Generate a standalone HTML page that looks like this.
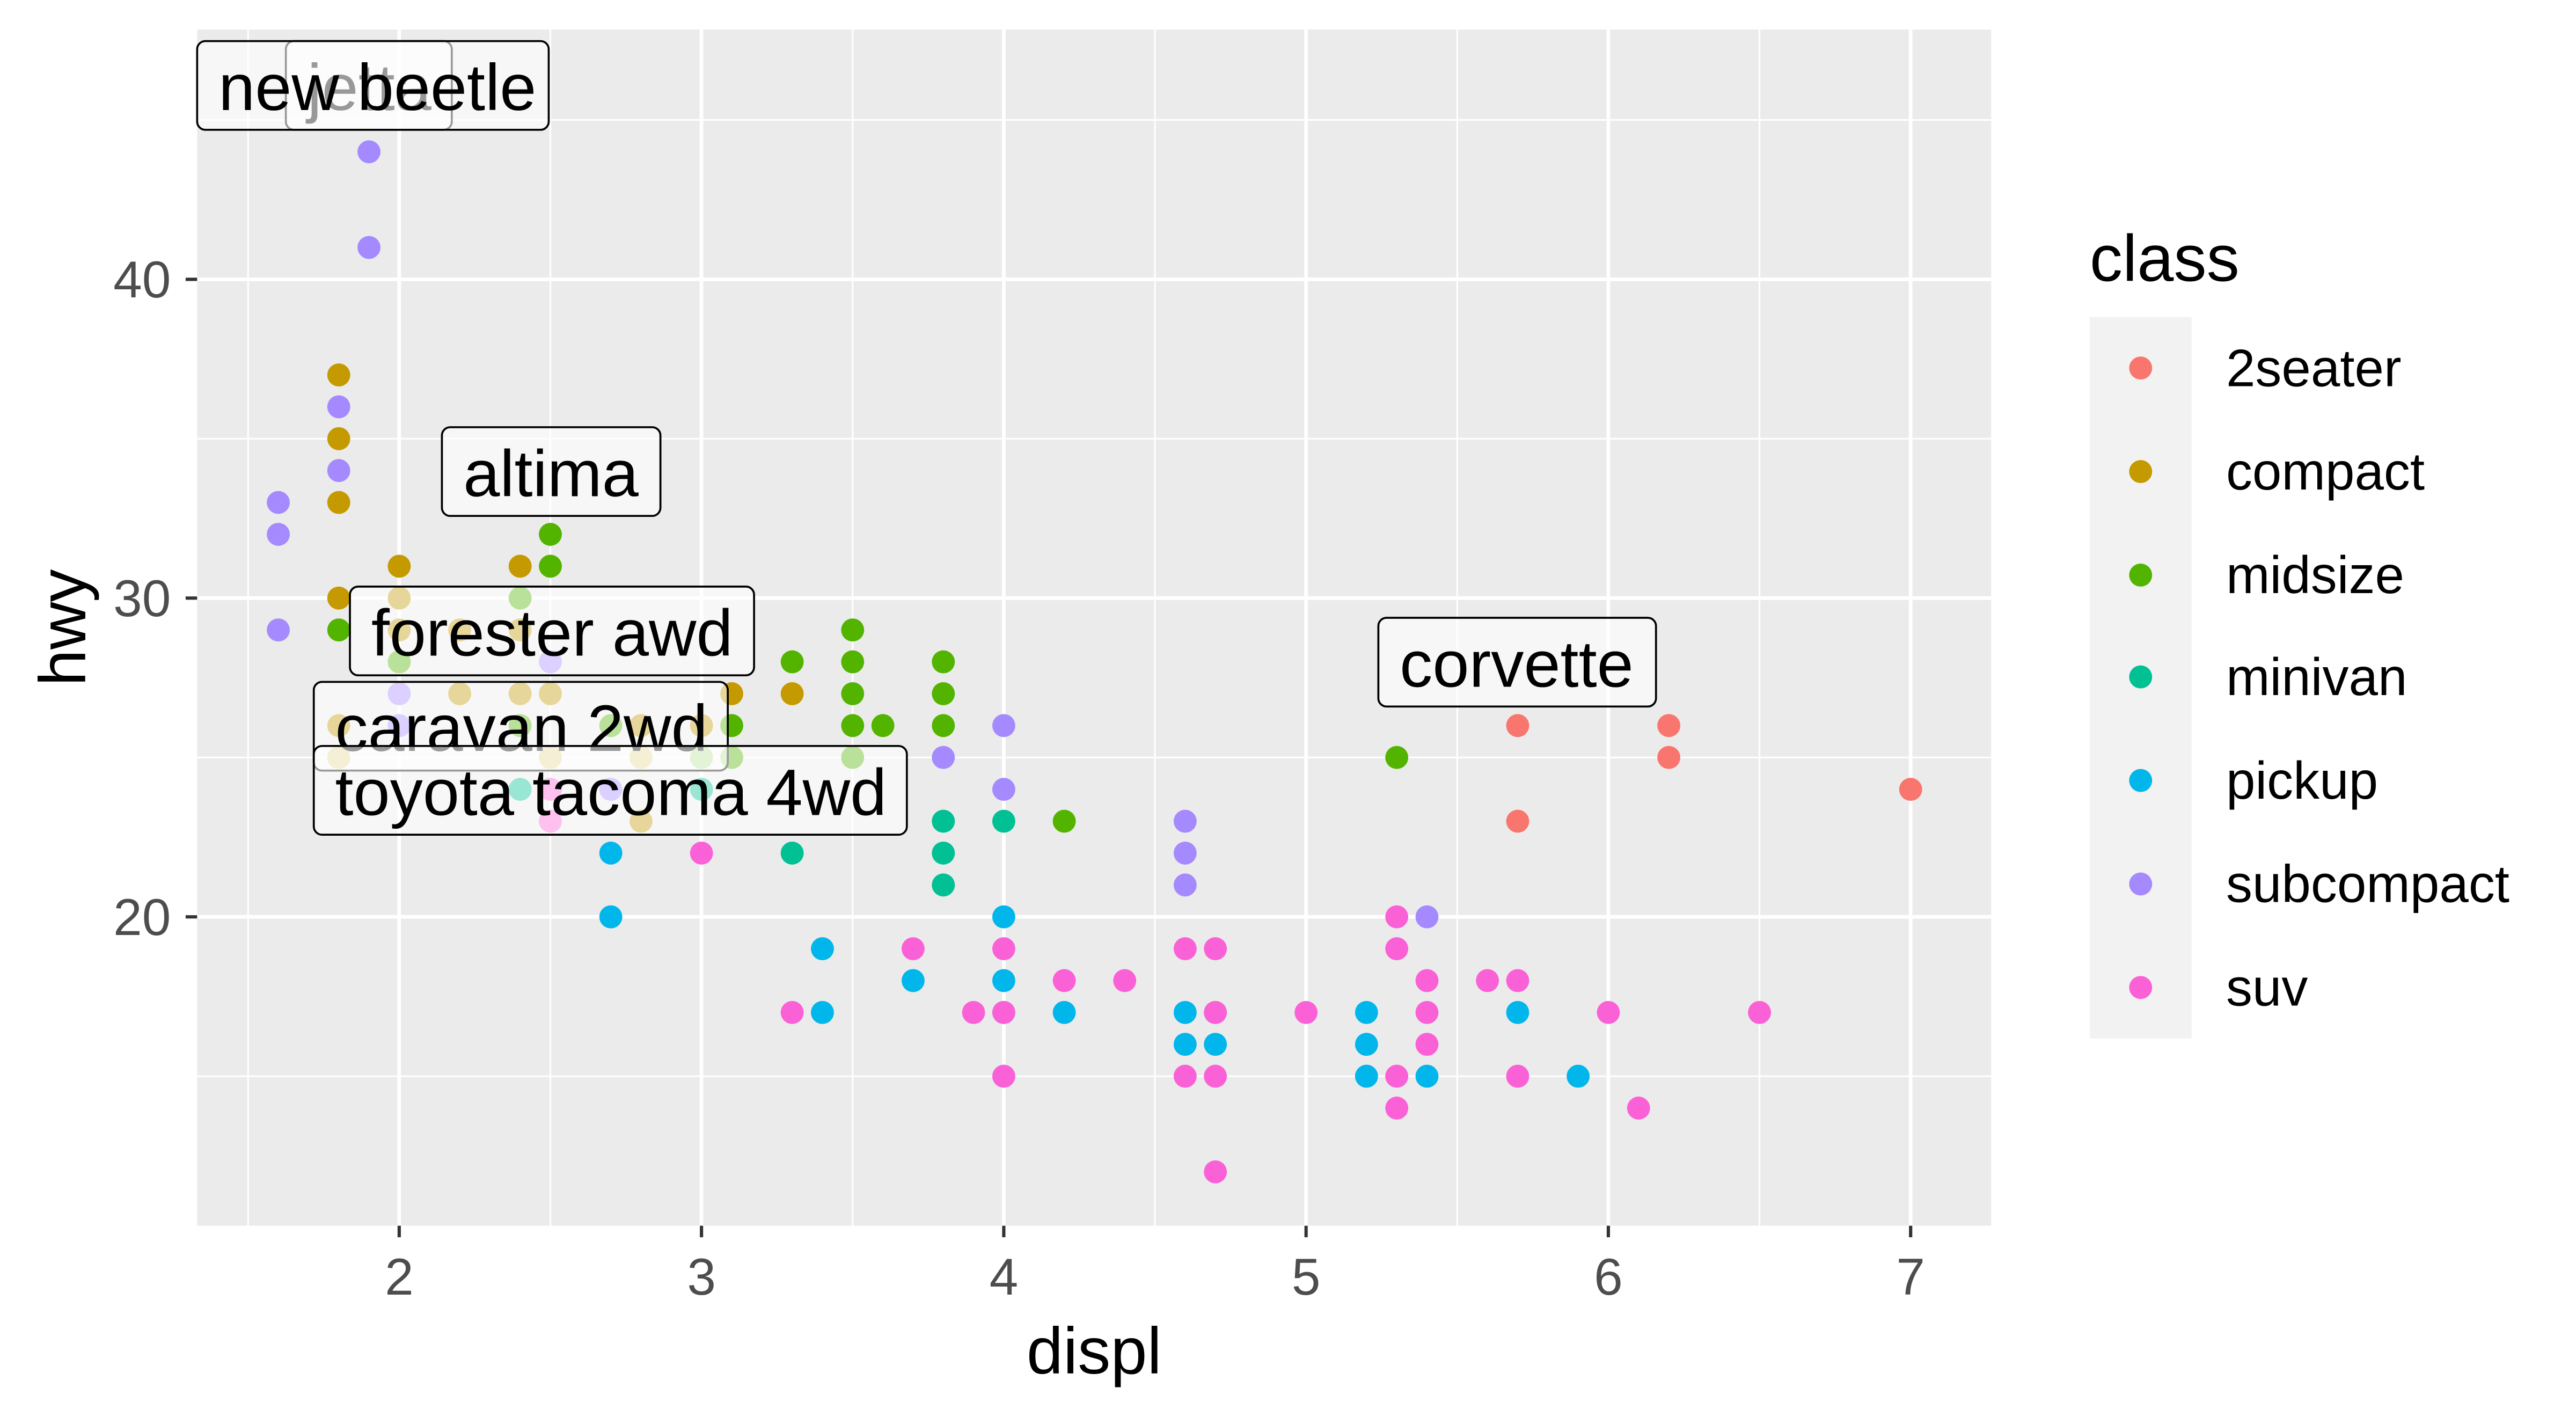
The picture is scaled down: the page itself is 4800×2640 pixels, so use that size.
<!DOCTYPE html>
<html><head><meta charset="utf-8"><style>html,body{margin:0;padding:0;background:#fff}svg{display:block}text{font-family:"Liberation Sans",Arial,sans-serif}</style></head>
<body>
<svg width="4800" height="2640" viewBox="0 0 1568 862.4" preserveAspectRatio="none" xmlns="http://www.w3.org/2000/svg">
<rect x="0" y="0" width="1600" height="900" fill="#fff"/>
<rect x="120" y="18" width="1092" height="728" fill="#EBEBEB"/>
<g stroke="#fff" stroke-width="1">
<line x1="151" x2="151" y1="18" y2="746"/><line x1="335" x2="335" y1="18" y2="746"/><line x1="519" x2="519" y1="18" y2="746"/><line x1="703" x2="703" y1="18" y2="746"/><line x1="887" x2="887" y1="18" y2="746"/><line x1="1071" x2="1071" y1="18" y2="746"/>
<line x1="120" x2="1212" y1="655" y2="655"/><line x1="120" x2="1212" y1="461" y2="461"/><line x1="120" x2="1212" y1="267" y2="267"/><line x1="120" x2="1212" y1="73" y2="73"/>
</g>
<g stroke="#fff" stroke-width="2.2">
<line x1="243" x2="243" y1="18" y2="746"/><line x1="427" x2="427" y1="18" y2="746"/><line x1="611" x2="611" y1="18" y2="746"/><line x1="795" x2="795" y1="18" y2="746"/><line x1="979" x2="979" y1="18" y2="746"/><line x1="1163" x2="1163" y1="18" y2="746"/>
<line x1="120" x2="1212" y1="558" y2="558"/><line x1="120" x2="1212" y1="364" y2="364"/><line x1="120" x2="1212" y1="170" y2="170"/>
</g>
<g id="pts"></g>
<g id="labs"></g>
<g stroke="#333" stroke-width="2">
<line x1="243" x2="243" y1="746" y2="753"/><line x1="427" x2="427" y1="746" y2="753"/><line x1="611" x2="611" y1="746" y2="753"/><line x1="795" x2="795" y1="746" y2="753"/><line x1="979" x2="979" y1="746" y2="753"/><line x1="1163" x2="1163" y1="746" y2="753"/>
<line x1="113" x2="120" y1="558" y2="558"/><line x1="113" x2="120" y1="364" y2="364"/><line x1="113" x2="120" y1="170" y2="170"/>
</g>
<g fill="#4D4D4D" font-size="31.5" text-anchor="middle">
<text x="243" y="788">2</text><text x="427" y="788">3</text><text x="611" y="788">4</text><text x="795" y="788">5</text><text x="979" y="788">6</text><text x="1163" y="788">7</text>
</g>
<g fill="#4D4D4D" font-size="31.5" text-anchor="end">
<text x="104" y="569">20</text><text x="104" y="375">30</text><text x="104" y="181">40</text>
</g>
<text x="666" y="836" font-size="40" text-anchor="middle">displ</text>
<text x="52" y="382" font-size="40" text-anchor="middle" transform="rotate(-90 52 382)">hwy</text>
<text x="1272" y="171" font-size="40">class</text>
<rect x="1272" y="193" width="62" height="439" fill="#F2F2F2"/>
<g font-size="32">
<circle cx="1303" cy="224" r="7" fill="#F8766D"/><text x="1355" y="235">2seater</text>
<circle cx="1303" cy="287" r="7" fill="#C49A00"/><text x="1355" y="298">compact</text>
<circle cx="1303" cy="350" r="7" fill="#53B400"/><text x="1355" y="361">midsize</text>
<circle cx="1303" cy="412" r="7" fill="#00C094"/><text x="1355" y="423">minivan</text>
<circle cx="1303" cy="475" r="7" fill="#00B6EB"/><text x="1355" y="486">pickup</text>
<circle cx="1303" cy="538" r="7" fill="#A58AFF"/><text x="1355" y="549">subcompact</text>
<circle cx="1303" cy="601" r="7" fill="#FB61D7"/><text x="1355" y="612">suv</text>
</g>
<script>
var C={a:"#F8766D",c:"#C49A00",m:"#53B400",v:"#00C094",p:"#00B6EB",s:"#A58AFF",u:"#FB61D7"};
var D={
a:[[5.7,26],[5.7,23],[6.2,26],[6.2,25],[7,24]],
c:[[1.8,37],[1.8,35],[1.8,33],[1.8,30],[2,31],[2,30],[2.4,31],[3.1,27],[3.3,27],[2.8,23],[2.2,27],[2.4,27],[2.5,27],[2.5,25],[2.8,25],[2.8,26],[1.8,26],[1.8,25],[2,28],[2,29],[2.4,29],[2.2,29],[3,26]],
m:[[1.8,29],[2,28],[2.5,32],[2.5,31],[2.4,30],[3.1,26],[3.1,25],[3.3,28],[3.5,29],[3.5,28],[3.5,27],[3.5,26],[3.6,26],[3.8,28],[3.8,27],[3.8,26],[3.5,25],[5.3,25],[4.2,23],[3,25],[2.4,26],[2.7,26]],
v:[[2.4,24],[3.3,22],[3.8,23],[3.8,22],[3.8,21],[4,23],[3,24]],
p:[[2.7,22],[2.7,20],[3.4,19],[3.4,17],[3.7,18],[4,20],[4,18],[4,17],[4.2,17],[4.6,17],[4.6,16],[4.7,17],[4.7,16],[5.2,17],[5.2,16],[5.2,15],[5.4,15],[5.7,17],[5.9,15]],
s:[[1.6,33],[1.6,32],[1.6,29],[1.9,44],[1.9,41],[1.8,36],[1.8,34],[2,27],[2,26],[2.5,28],[2.7,24],[3.8,25],[4,26],[4,24],[4.6,23],[4.6,22],[4.6,21],[5.4,20]],
u:[[2.5,23],[2.5,24],[3,22],[3.3,17],[3.7,19],[3.9,17],[4,19],[4,17],[4,15],[4.2,18],[4.4,18],[4.6,19],[4.6,15],[4.7,19],[4.7,17],[4.7,15],[4.7,12],[5,17],[5.3,20],[5.3,19],[5.3,15],[5.3,14],[5.4,18],[5.4,17],[5.4,16],[5.6,18],[5.7,18],[5.7,15],[6,17],[6.1,14],[6.5,17]]};
var ns="http://www.w3.org/2000/svg",g=document.getElementById("pts");
["a","c","m","v","p","s","u"].forEach(function(k){D[k].forEach(function(d){var c=document.createElementNS(ns,"circle");c.setAttribute("cx",243+(d[0]-2)*184);c.setAttribute("cy",558-(d[1]-20)*19.4);c.setAttribute("r",7);c.setAttribute("fill",C[k]);g.appendChild(c);});});
var L=[["jetta",174,25,101],["new beetle",120,25,214],["altima",269,260,133],["forester awd",213,357,246],["caravan 2wd",191,415,252],["toyota tacoma 4wd",191,454,361],["corvette",839,376,169]];
var lg=document.getElementById("labs");
L.forEach(function(l){var r=document.createElementNS(ns,"rect");r.setAttribute("x",l[1]);r.setAttribute("y",l[2]);r.setAttribute("width",l[3]);r.setAttribute("height",54);r.setAttribute("rx",5);r.setAttribute("fill","rgba(255,255,255,0.6)");r.setAttribute("stroke","#000");r.setAttribute("stroke-width",1.2);lg.appendChild(r);var t=document.createElementNS(ns,"text");t.setAttribute("x",l[1]+13);t.setAttribute("y",l[2]+42);t.setAttribute("font-size",40);t.textContent=l[0];lg.appendChild(t);});
</script>
</svg>
</body></html>
